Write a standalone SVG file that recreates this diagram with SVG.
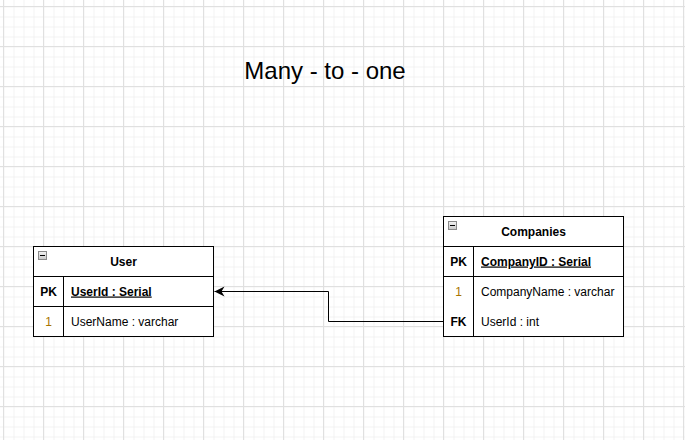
<svg xmlns="http://www.w3.org/2000/svg" width="685" height="440" viewBox="0 0 685 440">
<style>
.box{fill:#fff;stroke:#000;stroke-width:1}
.ln{stroke:#000;stroke-width:1;fill:none}
.t{font-family:"Liberation Sans",Arial,sans-serif;font-size:12px;fill:#000}
.b{font-weight:bold}
.c{text-anchor:middle}
.one{fill:#a87400}
.u{text-decoration:underline}
</style>
<defs>
<pattern id="minor" width="10" height="10" patternUnits="userSpaceOnUse" x="3.5" y="6.5">
<path d="M0 0.5H10M0.5 0V10" stroke="#f2f2f2" stroke-width="1" fill="none"/>
</pattern>
<pattern id="major" width="40" height="40" patternUnits="userSpaceOnUse" x="3" y="6">
<path d="M0 0.5H40M0.5 0V40" stroke="#e0e0e0" stroke-width="1" fill="none"/>
</pattern>
<linearGradient id="ig" x1="0" y1="0" x2="0" y2="1">
<stop offset="0" stop-color="#f4f4f4"/>
<stop offset="1" stop-color="#c8c8c8"/>
</linearGradient>
<g id="minus">
<rect x="0.5" y="0.5" width="8" height="8" fill="url(#ig)" stroke="#8a8a8a"/>
<path d="M2 4.5H7" stroke="#000" stroke-width="1"/>
</g>
<marker id="arr" markerWidth="12" markerHeight="10" refX="11" refY="5" orient="auto" markerUnits="userSpaceOnUse" overflow="visible">
<path d="M1 0 L11 5 L1 10 L4 5 Z" fill="#000"/>
</marker>
</defs>
<rect width="685" height="440" fill="#fff"/>
<rect width="685" height="440" fill="url(#minor)"/>
<rect width="685" height="440" fill="url(#major)"/>
<text class="t" x="325" y="79" text-anchor="middle" style="font-size:24px">Many - to - one</text>
<g id="user">
<rect class="box" x="33.5" y="246.5" width="180" height="90"/>
<path class="ln" d="M33.5 276.5H213.5M33.5 306.5H213.5M63.5 276.5V336.5"/>
<use href="#minus" x="38" y="251"/>
<text class="t b c" x="123.5" y="265.5">User</text>
<text class="t b c" x="48.5" y="295.5">PK</text>
<text class="t b u" x="71" y="295.5">UserId : Serial</text>
<text class="t c one" x="48.5" y="325.5">1</text>
<text class="t" x="71" y="325.5">UserName : varchar</text>
</g>
<g id="companies">
<rect class="box" x="443.5" y="216.5" width="180" height="120"/>
<path class="ln" d="M443.5 246.5H623.5M443.5 276.5H623.5M473.5 246.5V336.5"/>
<use href="#minus" x="448" y="221"/>
<text class="t b c" x="533.5" y="235.5">Companies</text>
<text class="t b c" x="458.5" y="265.5">PK</text>
<text class="t b u" x="481" y="265.5">CompanyID : Serial</text>
<text class="t c one" x="458.5" y="295.5">1</text>
<text class="t" x="481" y="295.5">CompanyName : varchar</text>
<text class="t b c" x="458.5" y="325.5">FK</text>
<text class="t" x="481" y="325.5">UserId : int</text>
</g>
<g id="connectors">
<path class="ln" d="M443.5 321.5H328.5V291.5H214.5" marker-end="url(#arr)"/>
</g>
</svg>
